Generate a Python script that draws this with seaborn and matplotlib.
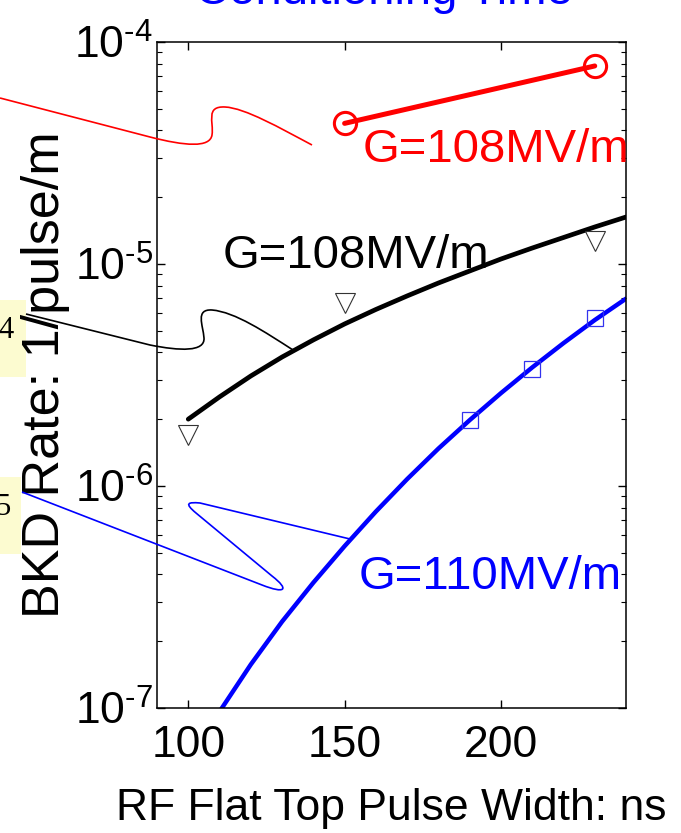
import numpy as np
import matplotlib
matplotlib.use("Agg")
import matplotlib.pyplot as plt
from matplotlib.path import Path
from matplotlib.patches import PathPatch, Rectangle
from matplotlib.ticker import FuncFormatter
import seaborn as sns

# breakdown rate data
red_x = [150, 230]
red_y = [4.3e-5, 7.8e-5]

black_x = [100, 110, 120, 130, 140, 150, 160, 170, 180, 190, 200, 210, 220, 230, 240]
black_y = [2.00e-6, 2.52e-6, 3.13e-6, 3.81e-6, 4.55e-6, 5.37e-6, 6.24e-6, 7.18e-6,
           8.21e-6, 9.30e-6, 1.053e-5, 1.18e-5, 1.316e-5, 1.468e-5, 1.628e-5]
tri_x = [100, 150, 230]
tri_y = [1.70e-6, 6.67e-6, 1.27e-5]

blue_x = [110, 120, 130, 140, 150, 160, 170, 180, 190, 200, 210, 220, 230, 240]
blue_y = [9.63e-8, 1.57e-7, 2.45e-7, 3.67e-7, 5.36e-7, 7.67e-7, 1.074e-6, 1.474e-6,
          1.98e-6, 2.62e-6, 3.42e-6, 4.40e-6, 5.59e-6, 6.98e-6]
sq_x = [190, 210, 230]
sq_y = [1.98e-6, 3.36e-6, 5.7e-6]

labels = ["G=108MV/m", "G=108MV/m", "G=110MV/m"]
label_colors = ["red", "black", "blue"]

sns.set_theme(style="ticks")
plt.rcParams['font.family'] = ['Liberation Sans', 'DejaVu Sans']
plt.rcParams['mathtext.default'] = 'regular'
for k in ['text.color', 'axes.labelcolor', 'xtick.color', 'ytick.color', 'axes.edgecolor']:
    plt.rcParams[k] = 'black'

W, H = 681, 833
fig = plt.figure(figsize=(W / 100, H / 100), dpi=100)
ax = fig.add_axes([157 / W, 1 - 708 / H, (626 - 157) / W, (708 - 42) / H])

# curves
sns.lineplot(x=red_x, y=red_y, ax=ax, color="red", lw=3.6, marker="o", ms=16,
             mfc="none", mec="red", mew=2.2)
sns.lineplot(x=black_x, y=black_y, ax=ax, color="black", lw=3.4)
sns.lineplot(x=blue_x, y=blue_y, ax=ax, color="blue", lw=3.2)

# measured points
sns.lineplot(x=tri_x, y=tri_y, ax=ax, ls="", marker="v", ms=14.5,
             mfc="none", mec="#333333", mew=0.8)
sns.lineplot(x=sq_x, y=sq_y, ax=ax, ls="", marker="s", ms=12,
             mfc="none", mec="#3333ee", mew=0.9)

ax.set_yscale("log")
ax.set_xlim(90, 240)
ax.set_ylim(1e-7, 1e-4)
ax.set_xticks([100, 150, 200])
ax.set_yticks([1e-7, 1e-6, 1e-5, 1e-4])
# exponent written with a plain hyphen like the original slide
ax.yaxis.set_major_formatter(FuncFormatter(
    lambda v, pos: r"$\mathdefault{10^{" + "\u2010" + "%d}}$" % abs(round(np.log10(v)))))

ax.tick_params(which="both", direction="in", top=True, right=True)
ax.tick_params(which="major", length=6, width=1, labelsize=32, pad=3)
ax.tick_params(which="minor", length=3.5, width=0.8)
ax.tick_params(axis="x", which="major", pad=12)
for s in ax.spines.values():
    s.set_linewidth(1.1)

ax.set_xlabel("RF Flat Top Pulse Width: ns", fontsize=32)
ax.set_ylabel("BKD Rate: 1/pulse/m", fontsize=37.5)
ax.xaxis.set_label_coords(0.5, -0.12)
ax.yaxis.set_label_coords(-0.185, 0.5)

# curve labels
ax.text(155.9, 2.88e-5, labels[0], color=label_colors[0], fontsize=34, ha="left", va="baseline")
ax.text(110.9, 9.6e-6, labels[1], color=label_colors[1], fontsize=34, ha="left", va="baseline")
ax.text(154.6, 3.43e-7, labels[2], color=label_colors[2], fontsize=34, ha="left", va="baseline")

# title, cut off at the top edge as in the slide
fig.text(384 / W, 1 - 4 / H, "Conditioning Time", color="blue", fontsize=34,
         ha="center", va="baseline")


# callout leaders coming in from outside the plot (figure pixel coords)
def fig_path(pts, codes, color):
    verts = [(x / W, 1 - y / H) for x, y in pts]
    patch = PathPatch(Path(verts, codes), transform=fig.transFigure, fc="none",
                      ec=color, lw=1.2, clip_on=False)
    fig.patches.append(patch)


M, L, C = Path.MOVETO, Path.LINETO, Path.CURVE4
fig_path([(0, 98), (150, 137), (185, 146), (210, 148), (212, 135),
          (214, 122), (205, 106), (225, 107), (245, 108), (280, 128), (312, 145)],
         [M, L, C, C, C, C, C, C, C, C, C], "red")
fig_path([(26, 314), (150, 345), (180, 351), (205, 352), (204, 338),
          (203, 325), (195, 309), (212, 310), (235, 312), (265, 332), (293, 350)],
         [M, L, C, C, C, C, C, C, C, C, C], "black")
fig_path([(22, 492), (262, 585), (285, 594), (290, 590), (272, 576),
          (196, 513), (184, 503), (188, 502), (200, 503), (350, 539)],
         [M, L, C, C, C, L, C, C, C, L], "blue")

# yellow slide number boxes
for (y0, y1, num, xr, bw) in [(300, 377, "4", 14, 26), (477, 554, "5", 10, 21)]:
    fig.patches.append(Rectangle((0, 1 - y1 / H), bw / W, (y1 - y0) / H,
                                 transform=fig.transFigure,
                                 fc="#fcfbd0", ec="none", zorder=-1))
    fig.text(xr / W, 1 - (y0 + 38) / H, num, fontsize=22, ha="right", va="baseline",
             family=["Liberation Serif", "DejaVu Serif"])

fig.savefig("out.png", dpi=100)
